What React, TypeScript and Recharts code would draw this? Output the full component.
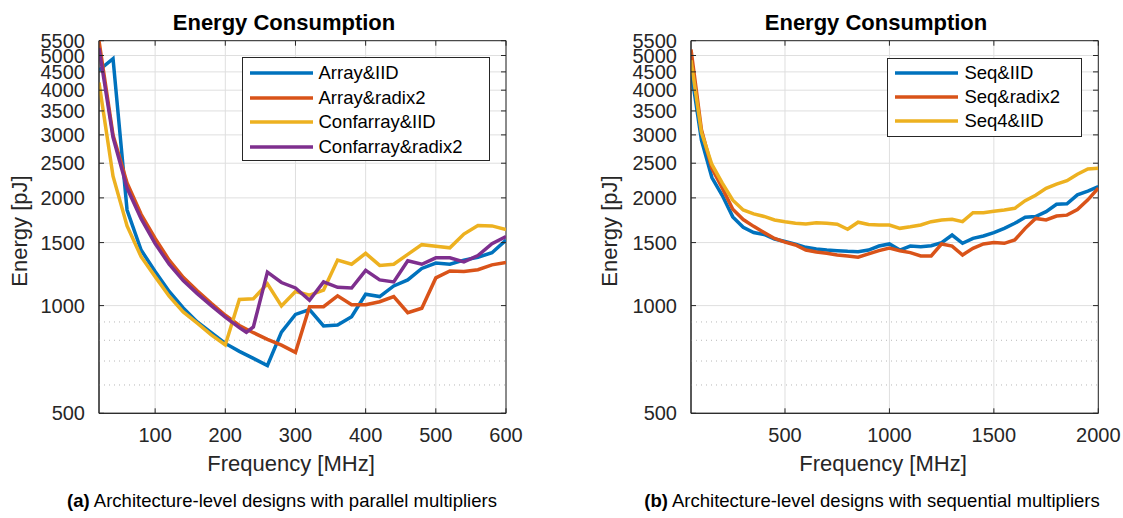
import {
  LineChart,
  Line,
  XAxis,
  YAxis,
  CartesianGrid,
  ReferenceLine,
  ReferenceArea,
  Legend,
} from "recharts";

const FONT = '"Liberation Sans", Arial, Helvetica, sans-serif';
const INK = "#262626";

// (a) parallel multipliers, frequency in MHz (230 only sampled for Confarray&radix2)
const parFreq = [
  20, 40, 60, 80, 100, 120, 140, 160, 180, 200, 220, 230, 240, 260, 280, 300,
  320, 340, 360, 380, 400, 420, 440, 460, 480, 500, 520, 540, 560, 580, 600,
];
const arrayIID = [
  4550, 4900, 1850, 1430, 1245, 1095, 985, 900, 840, 784, 745, null, 712, 680,
  843, 945, 975, 877, 882, 931, 1076, 1060, 1135, 1180, 1270, 1315, 1305, 1340,
  1365, 1405, 1525,
];
const arrayRadix2 = [
  5500, 3000, 2200, 1800, 1540, 1340, 1200, 1100, 1015, 940, 880, null, 840, 805,
  775, 740, 993, 993, 1065, 1005, 1005, 1025, 1060, 955, 983, 1195, 1250, 1245,
  1260, 1300, 1320,
];
const confIID = [
  4200, 2300, 1670, 1370, 1205, 1062, 960, 893, 828, 776, 1040, null, 1045, 1150,
  998, 1095, 1070, 1105, 1340, 1305, 1400, 1295, 1305, 1390, 1480, 1465, 1450,
  1585, 1675, 1670, 1630,
];
const confRadix2 = [
  5250, 2950, 2130, 1750, 1490, 1305, 1175, 1080, 1000, 928, 868, 842, 872, 1240,
  1160, 1120, 1035, 1165, 1125, 1120, 1255, 1180, 1165, 1335, 1305, 1360, 1360,
  1325, 1380, 1490, 1560,
];

// (b) sequential multipliers
const seqFreq = [
  50, 100, 150, 200, 250, 300, 350, 400, 450, 500, 550, 600, 650, 700, 750, 800,
  850, 900, 950, 1000, 1050, 1100, 1150, 1200, 1250, 1300, 1350, 1400, 1450,
  1500, 1550, 1600, 1650, 1700, 1750, 1800, 1850, 1900, 1950, 2000,
];
const seqIID = [
  4550, 2900, 2280, 2030, 1770, 1655, 1600, 1580, 1535, 1510, 1485, 1455, 1440,
  1430, 1424, 1418, 1415, 1430, 1467, 1487, 1430, 1467, 1461, 1470, 1500, 1575,
  1493, 1542, 1565, 1600, 1644, 1698, 1765, 1773, 1830, 1920, 1925, 2040, 2090,
  2150,
];
const seqRadix2 = [
  5200, 3100, 2420, 2130, 1860, 1740, 1665, 1600, 1540, 1505, 1477, 1430, 1412,
  1400, 1385, 1376, 1365, 1395, 1424, 1449, 1424, 1406, 1376, 1376, 1487, 1467,
  1385, 1446, 1487, 1500, 1493, 1525, 1644, 1752, 1735, 1780, 1790, 1855, 1975,
  2130,
];
const seq4IID = [
  4850, 3050, 2480, 2200, 1970, 1850, 1805, 1775, 1735, 1715, 1700, 1691, 1705,
  1700, 1688, 1634, 1710, 1685, 1680, 1680, 1644, 1660, 1680, 1716, 1735, 1743,
  1716, 1818, 1818, 1834, 1850, 1870, 1964, 2035, 2127, 2185, 2234, 2330, 2410,
  2420,
];

const energyTicks = [500, 1000, 1500, 2000, 2500, 3000, 3500, 4000, 4500, 5000, 5500];
const minorTicks = [600, 700, 800, 900];
const parTicks = [100, 200, 300, 400, 500, 600];
const seqTicks = [500, 1000, 1500, 2000];

const parSeries = [
  { key: "arrayIID", name: "Array&IID", color: "#0072BD" },
  { key: "arrayRadix2", name: "Array&radix2", color: "#D95319" },
  { key: "confIID", name: "Confarray&IID", color: "#EDB120" },
  { key: "confRadix2", name: "Confarray&radix2", color: "#7E2F8E" },
];
const seqSeries = [
  { key: "seqIID", name: "Seq&IID", color: "#0072BD" },
  { key: "seqRadix2", name: "Seq&radix2", color: "#D95319" },
  { key: "seq4IID", name: "Seq4&IID", color: "#EDB120" },
];

const parData = parFreq.map((f, i) => ({
  f,
  arrayIID: arrayIID[i],
  arrayRadix2: arrayRadix2[i],
  confIID: confIID[i],
  confRadix2: confRadix2[i],
}));
const seqData = seqFreq.map((f, i) => ({
  f,
  seqIID: seqIID[i],
  seqRadix2: seqRadix2[i],
  seq4IID: seq4IID[i],
}));

const PLOT_W = 407;
const PLOT_H = 372.6;
const Y_MARGIN = 14;
const X_MARGIN = 14;

function YTick({ x, y, payload }: any) {
  const ax = x + Y_MARGIN;
  return (
    <g>
      <line x1={ax} x2={ax + 5} y1={y} y2={y} stroke={INK} />
      <line x1={ax + PLOT_W - 5} x2={ax + PLOT_W} y1={y} y2={y} stroke={INK} />
      <text x={x} y={y} dy="0.35em" textAnchor="end" fontSize={20} fill={INK} fontFamily={FONT}>
        {payload.value}
      </text>
    </g>
  );
}

function XTick({ x, y, payload }: any) {
  const ay = y - X_MARGIN;
  return (
    <g>
      <line x1={x} x2={x} y1={ay} y2={ay - 5} stroke={INK} />
      <line x1={x} x2={x} y1={ay - PLOT_H} y2={ay - PLOT_H + 5} stroke={INK} />
      <text x={x} y={y} dy="0.71em" textAnchor="middle" fontSize={20} fill={INK} fontFamily={FONT}>
        {payload.value}
      </text>
    </g>
  );
}

function LegendBox({ series, width, height, padTop }: any) {
  return (
    <div
      style={{
        width,
        height,
        boxSizing: "border-box",
        border: `1px solid ${INK}`,
        background: "#fff",
        paddingTop: padTop,
      }}
    >
      {series.map((s: any) => (
        <div key={s.key} style={{ display: "flex", alignItems: "center", height: 24.4 }}>
          <svg width={76} height={24} style={{ flex: "none" }}>
            <line x1={7} x2={70} y1={12} y2={12} stroke={s.color} strokeWidth={3.5} />
          </svg>
          <span style={{ fontSize: 18.5, color: "#000", fontFamily: FONT, lineHeight: "24px", whiteSpace: "nowrap" }}>
            {s.name}
          </span>
        </div>
      ))}
    </div>
  );
}

function Panel(props: any) {
  const { data, series, xDomain, xTicks, width, marginLeft, marginRight, legend } = props;
  return (
    <LineChart
      width={width}
      height={518}
      data={data}
      margin={{ top: 40.7, right: marginRight, bottom: 64.7, left: marginLeft }}
    >
      <CartesianGrid stroke="#dfdfdf" />
      {minorTicks.map((v) => (
        <ReferenceLine key={v} y={v} stroke="#b8b8b8" strokeDasharray="1 4" />
      ))}
      <XAxis
        dataKey="f"
        type="number"
        domain={xDomain}
        ticks={xTicks}
        interval={0}
        allowDataOverflow
        height={40}
        tickSize={0}
        tickMargin={X_MARGIN}
        tick={(p: any) => <XTick {...p} />}
        stroke={INK}
      />
      <YAxis
        scale="log"
        domain={[500, 5500]}
        ticks={energyTicks}
        interval={0}
        allowDataOverflow
        width={60}
        tickSize={0}
        tickMargin={Y_MARGIN}
        tick={(p: any) => <YTick {...p} />}
        stroke={INK}
      />
      <ReferenceArea
        x1={xDomain[0]}
        x2={xDomain[1]}
        y1={500}
        y2={5500}
        fill="none"
        fillOpacity={0}
        stroke={INK}
        strokeWidth={1}
      />
      {series.map((s: any) => (
        <Line
          key={s.key}
          dataKey={s.key}
          name={s.name}
          type="linear"
          stroke={s.color}
          strokeWidth={3.5}
          dot={false}
          connectNulls
          isAnimationActive={false}
        />
      ))}
      <Legend
        layout="vertical"
        align="center"
        verticalAlign="middle"
        wrapperStyle={{ left: legend.left, top: legend.top, width: legend.width }}
        content={() => (
          <LegendBox series={series} width={legend.width} height={legend.height} padTop={legend.padTop} />
        )}
      />
    </LineChart>
  );
}

export default function App() {
  return (
    <div
      style={{
        position: "absolute",
        left: 0,
        top: 0,
        width: 1123,
        height: 518,
        background: "#fff",
        fontFamily: FONT,
      }}
    >
      <div style={{ position: "absolute", left: 0, top: 0 }}>
        <Panel
          data={parData}
          series={parSeries}
          xDomain={[20, 600]}
          xTicks={parTicks}
          width={560}
          marginLeft={39}
          marginRight={54}
          legend={{ left: 241.5, top: 57.1, width: 248.3, height: 103.5, padTop: 3.2 }}
        />
      </div>
      <div style={{ position: "absolute", left: 560, top: 0 }}>
        <Panel
          data={seqData}
          series={seqSeries}
          xDomain={[50, 2000]}
          xTicks={seqTicks}
          width={563}
          marginLeft={71}
          marginRight={24.7}
          legend={{ left: 327.4, top: 58, width: 195, height: 78.7, padTop: 1.4 }}
        />
      </div>
      <svg
        width={1123}
        height={518}
        style={{ position: "absolute", left: 0, top: 0, pointerEvents: "none" }}
        fontFamily={FONT}
      >
        <text x={284} y={30} textAnchor="middle" fontSize={22} fontWeight="bold" fill="#000">
          Energy Consumption
        </text>
        <text x={876} y={30} textAnchor="middle" fontSize={22} fontWeight="bold" fill="#000">
          Energy Consumption
        </text>
        <text x={291} y={471.3} textAnchor="middle" fontSize={22} fill={INK}>
          Frequency [MHz]
        </text>
        <text x={883} y={471.3} textAnchor="middle" fontSize={22} fill={INK}>
          Frequency [MHz]
        </text>
        <text transform="translate(27 231) rotate(-90)" textAnchor="middle" fontSize={22} fill={INK}>
          Energy [pJ]
        </text>
        <text transform="translate(617 231) rotate(-90)" textAnchor="middle" fontSize={22} fill={INK}>
          Energy [pJ]
        </text>
        <text x={282} y={507} textAnchor="middle" fontSize={18.5} fill="#000">
          <tspan fontWeight="bold">(a)</tspan> Architecture-level designs with parallel multipliers
        </text>
        <text x={872} y={507} textAnchor="middle" fontSize={18.5} fill="#000">
          <tspan fontWeight="bold">(b)</tspan> Architecture-level designs with sequential multipliers
        </text>
      </svg>
    </div>
  );
}
